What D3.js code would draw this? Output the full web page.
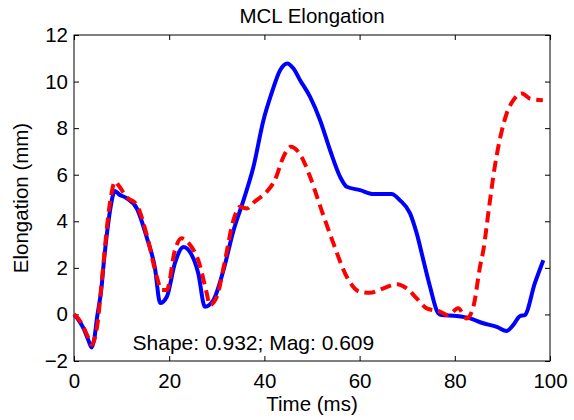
<!DOCTYPE html>
<html>
<head>
<meta charset="utf-8">
<script src="https://cdn.jsdelivr.net/npm/d3@7"></script>
<style>
  html, body { margin: 0; padding: 0; background: #fff; }
  text { font-family: "Liberation Sans", Arial, Helvetica, sans-serif; fill: #000; }
</style>
</head>
<body>
<svg id="chart" width="574" height="420"></svg>
<script>
// ---- Data ----
const title = "MCL Elongation";
const xLabel = "Time (ms)";
const yLabel = "Elongation (mm)";
const annotation = "Shape: 0.932; Mag: 0.609";
const xTicks = [0, 20, 40, 60, 80, 100];
const yTicks = [-2, 0, 2, 4, 6, 8, 10, 12];

const blueTime = [0, 1, 2, 3, 3.7, 4.3, 4.8, 5.8, 6.2, 7, 7.6, 8.6, 9.5, 11, 13.2, 15.3, 17, 18.1, 19.5, 21.2, 23, 24.6, 26.1, 27.5, 29.3, 31.4, 33.5, 35.6, 37.7, 39.8, 41.5, 43.3, 44.8, 46.1, 47.5, 49.6, 51.7, 53.8, 55.9, 57.3, 60.1, 62.9, 66.7, 68.5, 70.6, 72, 73.4, 74.8, 76.5, 77.2, 80.4, 83.2, 86, 88.8, 90.9, 92.3, 93.7, 94.7, 96.8, 98.6];
const blueValues = [0, -0.25, -0.6, -1.1, -1.42, -1.0, -0.2, 1.2, 2.1, 3.6, 4.5, 5.3, 5.15, 5.0, 4.55, 3.3, 2.0, 0.49, 0.76, 2.2, 2.9, 2.6, 1.77, 0.33, 0.62, 1.9, 3.6, 4.9, 6.34, 8.34, 9.49, 10.49, 10.78, 10.56, 10.06, 9.34, 8.34, 7.05, 5.91, 5.48, 5.34, 5.17, 5.17, 4.9, 4.34, 3.48, 2.33, 1.19, 0.05, -0.03, -0.07, -0.17, -0.38, -0.53, -0.71, -0.45, -0.07, -0.03, 1.33, 2.33];

const redTime = [0, 1, 2, 3, 3.7, 4.4, 5, 5.6, 6.2, 7, 7.8, 8.6, 9.5, 11, 13.2, 15.3, 17.4, 18.4, 19.5, 21.2, 22.6, 24.4, 26.1, 27.9, 28.5, 30, 31.6, 33.5, 34.9, 36.3, 38, 40.5, 42.2, 44, 45.5, 47.8, 49.6, 52, 54.5, 57.3, 60.1, 62.2, 65, 67.8, 69.9, 72, 74.1, 76.9, 78.6, 80.7, 82.5, 83.9, 85.3, 86, 87.2, 88.4, 89.9, 90.9, 92.3, 94.1, 95.8, 98.5];
const redValues = [0, -0.2, -0.55, -1.0, -1.3, -1.0, -0.3, 0.9, 2.2, 3.9, 5.1, 5.7, 5.5, 5.05, 4.7, 3.4, 1.62, 1.05, 1.05, 2.76, 3.27, 2.98, 2.33, 0.9, 0.4, 0.76, 2.19, 4.05, 4.62, 4.55, 4.85, 5.27, 5.77, 6.77, 7.2, 6.77, 5.91, 4.48, 3.05, 1.62, 0.97, 0.93, 1.12, 1.3, 1.12, 0.69, 0.26, 0.12, -0.03, 0.26, -0.17, 0.33, 2.05, 2.76, 4.6, 6.34, 7.91, 8.63, 9.2, 9.49, 9.27, 9.2];

// ---- Layout ----
const svg = d3.select("#chart");
const mLeft = 74, mRight = 550, mTop = 35, mBottom = 361;

const x = d3.scaleLinear().domain([0, 100]).range([mLeft, mRight]);
const y = d3.scaleLinear().domain([-2, 12]).range([mBottom, mTop]);

const fs = 20.5;

// frame
svg.append("rect")
  .attr("x", mLeft).attr("y", mTop)
  .attr("width", mRight - mLeft).attr("height", mBottom - mTop)
  .attr("fill", "none").attr("stroke", "#000").attr("stroke-width", 1);

// axes (ticks inside)
const tickLen = 5;
const xAxisB = d3.axisBottom(x).tickValues(xTicks).tickSize(-tickLen).tickPadding(12).tickFormat(d3.format("d"));
const xAxisT = d3.axisTop(x).tickValues(xTicks).tickSize(-tickLen).tickFormat("");
const yAxisL = d3.axisLeft(y).tickValues(yTicks).tickSize(-tickLen).tickPadding(6).tickFormat(d3.format("d"));
const yAxisR = d3.axisRight(y).tickValues(yTicks).tickSize(-tickLen).tickFormat("");

function styleAxis(g) {
  g.select(".domain").remove();
  g.selectAll(".tick line").attr("stroke", "#000").attr("stroke-width", 1);
  g.selectAll("text").attr("font-size", fs).attr("font-family", "Liberation Sans, Arial, sans-serif").attr("fill", "#000");
}

svg.append("g").attr("transform", `translate(0,${mBottom})`).call(xAxisB).call(styleAxis);
svg.append("g").attr("transform", `translate(0,${mTop})`).call(xAxisT).call(styleAxis);
svg.append("g").attr("transform", `translate(${mLeft},0)`).call(yAxisL).call(styleAxis);
svg.append("g").attr("transform", `translate(${mRight},0)`).call(yAxisR).call(styleAxis);

// lines
const blueData = blueTime.map((t, i) => [t, blueValues[i]]);
const redData = redTime.map((t, i) => [t, redValues[i]]);
const line = d3.line().x(d => x(d[0])).y(d => y(d[1])).curve(d3.curveMonotoneX);

svg.append("path").datum(blueData)
  .attr("d", line).attr("fill", "none")
  .attr("stroke", "#0000ff").attr("stroke-width", 4)
  .attr("stroke-linejoin", "round").attr("stroke-linecap", "butt");

svg.append("path").datum(redData)
  .attr("d", line).attr("fill", "none")
  .attr("stroke", "#ff0000").attr("stroke-width", 4)
  .attr("stroke-dasharray", "11,6")
  .attr("stroke-linejoin", "round");

// texts
svg.append("text").attr("x", (mLeft + mRight) / 2).attr("y", 23)
  .attr("text-anchor", "middle").attr("font-size", fs).text(title);

svg.append("text").attr("x", (mLeft + mRight) / 2).attr("y", 411)
  .attr("text-anchor", "middle").attr("font-size", fs).text(xLabel);

svg.append("text").attr("transform", `translate(28,${(mTop + mBottom) / 2}) rotate(-90)`)
  .attr("text-anchor", "middle").attr("font-size", fs).text(yLabel);

svg.append("text").attr("x", x(12.3)).attr("y", 350)
  .attr("font-size", 21).text(annotation);
</script>
</body>
</html>
